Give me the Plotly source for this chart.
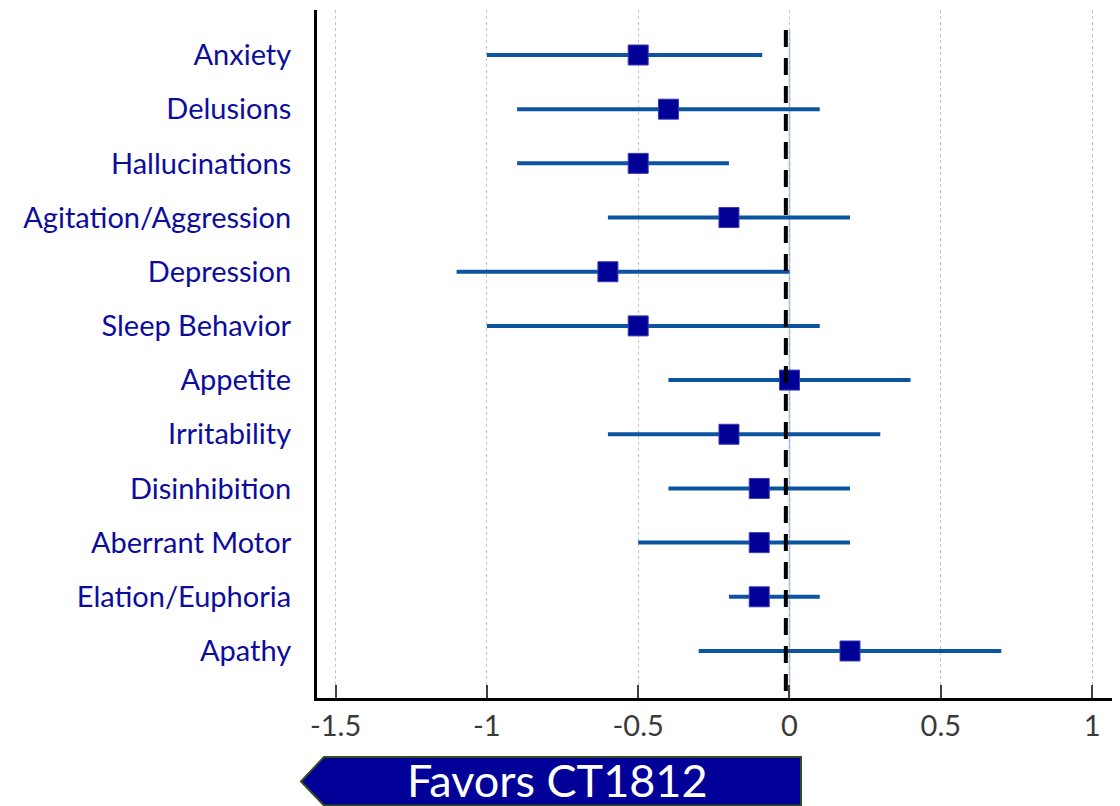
import plotly.graph_objects as go

# ---- data ----
domains = ["Anxiety", "Delusions", "Hallucinations", "Agitation/Aggression",
           "Depression", "Sleep Behavior", "Appetite", "Irritability",
           "Disinhibition", "Aberrant Motor", "Elation/Euphoria", "Apathy"]
estimate = [-0.5, -0.4, -0.5, -0.2, -0.6, -0.5, 0.0, -0.2, -0.1, -0.1, -0.1, 0.2]
ci_low = [-1.0, -0.9, -0.9, -0.6, -1.1, -1.0, -0.4, -0.6, -0.4, -0.5, -0.2, -0.3]
ci_high = [-0.09, 0.1, -0.2, 0.2, 0.0, 0.1, 0.4, 0.3, 0.2, 0.2, 0.1, 0.7]
x_ticks = [-1.5, -1, -0.5, 0, 0.5, 1]
x_tick_labels = ["-1.5", "-1", "-0.5", "0", "0.5", "1"]
ref_line_x = -0.012
arrow_label = "Favors CT1812"

# page body has an 8px margin, so figure coords = viewport coords - 8
OFF = 8
W, H = 1120, 806
L, T = 317 - OFF, 10 - OFF
PW, PH = 1112 - 317, 698 - 10
R, B = W - L - PW, H - T - PH

rows = list(range(len(domains)))
err_plus = [h - e for h, e in zip(ci_high, estimate)]
err_minus = [e - l for e, l in zip(estimate, ci_low)]

LABEL_FONT = "Lato"
fig = go.Figure()
fig.add_trace(go.Scatter(
    x=estimate, y=rows, mode="markers",
    marker=dict(symbol="square", size=20, color="#000096",
                line=dict(color="#3a3ab8", width=1)),
    error_x=dict(type="data", symmetric=False, array=err_plus,
                 arrayminus=err_minus, color="#0d54a0", thickness=4, width=0),
    showlegend=False, hoverinfo="skip"))

# zero line (light blue) and dashed reference line
fig.add_shape(type="line", xref="x", yref="y", x0=0, x1=0, y0=-0.48, y1=11.85,
              line=dict(color="#9ab3d8", width=1.5), layer="below")
fig.add_shape(type="line", xref="x", yref="y", x0=ref_line_x, x1=ref_line_x,
              y0=-0.46, y1=11.75, line=dict(color="black", width=4, dash="17px,11px"))

# arrow box below axis (paper coords from viewport pixel positions)
def px(xp):
    return (xp - OFF - L) / PW
def py(yp):
    return (T + PH - (yp - OFF)) / PH

path = "M {} {} L {} {} L {} {} L {} {} L {} {} Z".format(
    px(301), py(781.5), px(324), py(757), px(801), py(757),
    px(801), py(805.5), px(324), py(805.5))
fig.add_shape(type="path", xref="paper", yref="paper", path=path,
              fillcolor="#000099", line=dict(color="#344d1e", width=2))
fig.add_annotation(xref="paper", yref="paper", x=px(557), y=py(780),
                   text=arrow_label, showarrow=False,
                   font=dict(family=LABEL_FONT, size=45, color="white"),
                   xanchor="center", yanchor="middle")

y_top = (10 - 55) / 54.18
y_bot = (698 - 55) / 54.18
fig.update_layout(
    width=W, height=H, margin=dict(l=L, r=R, t=T, b=B, autoexpand=False),
    paper_bgcolor="white", plot_bgcolor="white",
    xaxis=dict(range=[-1.5614, 1.0658], tickvals=x_ticks, ticktext=x_tick_labels,
               showgrid=True, gridcolor="#c4c4c4", griddash="dot", gridwidth=1,
               zeroline=False, showline=True, linecolor="black", linewidth=3,
               ticks="inside", ticklen=13, tickwidth=1.5, tickcolor="#404040",
               tickfont=dict(family=LABEL_FONT, size=29, color="#3a3a3a")),
    yaxis=dict(range=[y_bot, y_top], tickvals=rows, ticktext=domains,
               showgrid=False, zeroline=False, showline=True, linecolor="black",
               linewidth=3, ticks="", ticklabelstandoff=17,
               tickfont=dict(family=LABEL_FONT, size=29, color="#0d0d9c")),
)
fig.write_html("out.html")
